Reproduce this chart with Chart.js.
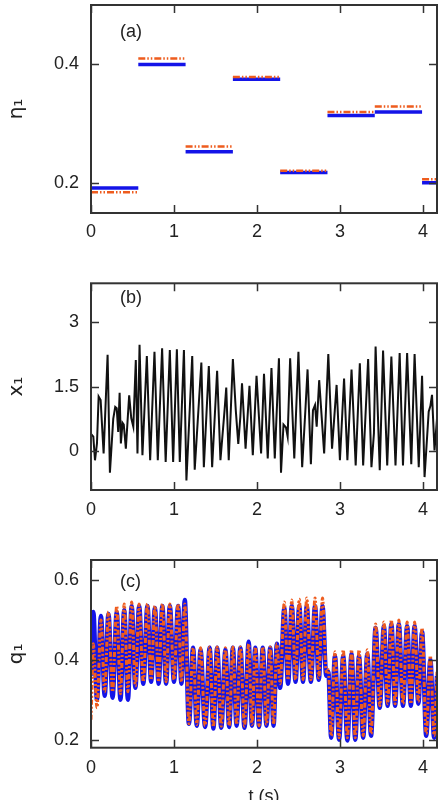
<!DOCTYPE html>
<html><head><meta charset="utf-8">
<script src="https://cdn.jsdelivr.net/npm/chart.js@4.4.1/dist/chart.umd.min.js"></script>
<style>
html,body{margin:0;padding:0;background:#fff;overflow:hidden;width:440px;height:800px}
canvas{position:absolute;left:0}
</style></head>
<body>
<canvas id="ca" width="440" height="262" style="top:0px"></canvas>
<canvas id="cb" width="440" height="268" style="top:262px"></canvas>
<canvas id="cc" width="440" height="280" style="top:530px"></canvas>
<script>
// ---------- data ----------
const T_TICKS = [0, 1, 2, 3, 4];

// panel (a): piecewise-constant eta_1
const SEG_START = [0, 0.57, 1.14, 1.71, 2.28, 2.85, 3.42, 3.99];
const SEG_END   = [0.57, 1.14, 1.71, 2.28, 2.85, 3.42, 3.99, 4.17];
const ETA_BLUE   = [0.192, 0.400, 0.253, 0.375, 0.218, 0.314, 0.320, 0.201];
const ETA_ORANGE = [0.185, 0.410, 0.262, 0.379, 0.221, 0.320, 0.329, 0.207];
const ETA_TICKS = [0.2, 0.4];

// panel (b): x_1
const T_B = [0,0.028,0.048,0.072,0.092,0.116,0.152,0.20,0.228,0.268,
 0.292,0.31,0.328,0.345,0.36,0.38,0.395,0.42,0.46,0.485,
 0.51,0.54,0.56,0.585,0.62,0.673,0.713,0.765,0.805,0.857,
 0.90,0.95,0.99,1.035,1.07,1.12,1.15,1.22,1.25,1.33,
 1.36,1.42,1.46,1.52,1.56,1.61,1.63,1.66,1.71,1.745,
 1.775,1.80,1.82,1.863,1.91,1.95,1.995,2.05,2.085,2.13,
 2.175,2.215,2.265,2.29,2.32,2.35,2.37,2.40,2.45,2.50,
 2.545,2.585,2.61,2.65,2.675,2.70,2.72,2.75,2.81,2.86,
 2.905,2.96,3.0,3.05,3.09,3.14,3.19,3.24,3.28,3.34,
 3.38,3.41,3.43,3.48,3.52,3.57,3.62,3.67,3.72,3.76,
 3.81,3.86,3.90,3.95,3.99,4.02,4.07,4.09,4.11,4.14,
 4.17];
const X_B = [0.40,0.34,-0.21,0.18,1.27,1.19,-0.05,2.24,-0.50,0.75,
 1.03,1.00,0.45,1.36,0.18,0.66,0.62,0.06,1.30,0.77,
 0.57,2.12,-0.05,2.47,-0.09,2.21,-0.21,2.31,-0.21,2.39,
 -0.25,2.35,-0.25,2.37,-0.25,2.35,-0.68,2.21,-0.43,2.06,
 -0.37,1.98,-0.37,1.87,-0.21,0.96,1.48,-0.21,2.14,0.95,
 0.17,0.80,1.58,0.06,1.52,-0.09,1.75,-0.05,1.80,-0.17,
 1.93,-0.17,2.16,-0.50,0.62,0.55,0.34,2.16,-0.17,2.31,
 -0.37,1.00,1.90,-0.30,0.95,1.07,0.57,1.65,-0.05,2.26,
 0.06,1.54,-0.21,1.69,-0.21,1.90,-0.33,2.04,-0.33,2.14,
 -0.37,0.42,2.43,-0.44,2.34,-0.33,2.20,-0.33,2.28,-0.33,
 2.28,-0.30,2.26,-0.37,1.75,-0.60,0.92,1.05,1.31,0.02,
 0.75];
const X_TICKS = [0, 1.5, 3];

// panel (c): q_1
const T_C = [0,0.012,0.028,0.072,0.12,0.165,0.21,0.26,0.31,0.355,
 0.40,0.445,0.49,0.535,0.58,0.63,0.68,0.725,0.77,0.815,
 0.86,0.905,0.95,1.0,1.05,1.09,1.13,1.18,1.23,1.275,
 1.32,1.375,1.43,1.475,1.52,1.57,1.62,1.665,1.71,1.755,
 1.80,1.85,1.90,1.94,1.98,2.025,2.07,2.115,2.16,2.20,
 2.24,2.28,2.33,2.375,2.42,2.465,2.51,2.555,2.60,2.65,
 2.70,2.745,2.79,2.835,2.86,2.895,2.94,2.99,3.04,3.09,
 3.14,3.185,3.23,3.28,3.33,3.375,3.43,3.48,3.53,3.575,
 3.62,3.665,3.71,3.76,3.81,3.855,3.90,3.945,3.99,4.04,
 4.09,4.135,4.17];
const Q_BLUE = [0.36,0.46,0.52,0.30,0.51,0.31,0.515,0.305,0.52,0.30,
 0.525,0.30,0.535,0.33,0.535,0.34,0.535,0.345,0.53,0.34,
 0.535,0.34,0.535,0.345,0.535,0.34,0.55,0.24,0.43,0.235,
 0.425,0.232,0.43,0.228,0.43,0.23,0.425,0.232,0.43,0.235,
 0.43,0.23,0.445,0.235,0.43,0.232,0.43,0.235,0.43,0.235,
 0.44,0.33,0.53,0.34,0.535,0.345,0.535,0.345,0.535,0.345,
 0.535,0.35,0.535,0.36,0.37,0.205,0.41,0.20,0.41,0.198,
 0.415,0.20,0.41,0.205,0.415,0.21,0.48,0.28,0.485,0.285,
 0.49,0.285,0.49,0.285,0.485,0.285,0.485,0.29,0.47,0.21,
 0.40,0.205,0.36];
const Q_ORANGE = [0.25,0.33,0.44,0.28,0.50,0.32,0.52,0.32,0.535,0.315,
 0.54,0.32,0.545,0.335,0.54,0.345,0.54,0.35,0.535,0.345,
 0.54,0.345,0.54,0.35,0.54,0.345,0.54,0.24,0.43,0.238,
 0.43,0.235,0.432,0.232,0.432,0.234,0.43,0.235,0.432,0.238,
 0.432,0.234,0.44,0.238,0.432,0.235,0.432,0.238,0.432,0.238,
 0.44,0.34,0.545,0.35,0.55,0.35,0.552,0.35,0.555,0.35,
 0.555,0.355,0.555,0.37,0.375,0.21,0.42,0.205,0.425,0.205,
 0.425,0.205,0.425,0.21,0.425,0.215,0.49,0.285,0.495,0.29,
 0.50,0.29,0.50,0.29,0.495,0.29,0.495,0.295,0.48,0.215,
 0.41,0.21,0.37];
const Q_TICKS = [0.2, 0.4, 0.6];

// ---------- styling ----------
const BLUE = '#1414e8';
const ORANGE = '#ee5c1e';
const FONT = '"Liberation Sans", "DejaVu Sans", Arial, sans-serif';
Chart.defaults.font.family = FONT;
Chart.defaults.font.size = 18;
Chart.defaults.color = '#222';
Chart.defaults.animation = false;

const zip = (xs, ys) => xs.map((x, i) => ({x: x, y: ys[i]}));
function segments(starts, ends, vals) {
  const out = [];
  starts.forEach((s, i) => {
    out.push({x: s, y: vals[i]}, {x: ends[i], y: vals[i]}, {x: ends[i], y: null});
  });
  return out;
}

const framePlugin = {
  id: 'frame',
  afterDraw(chart, args, opts) {
    const {ctx, chartArea: a, scales} = chart;
    ctx.save();
    ctx.strokeStyle = '#333';
    ctx.lineWidth = 1.5;
    const L = 8;
    ctx.beginPath();
    scales.x.ticks.forEach(t => {
      const px = Math.round(scales.x.getPixelForValue(t.value)) + 0.5;
      ctx.moveTo(px, a.bottom); ctx.lineTo(px, a.bottom - L);
      ctx.moveTo(px, a.top); ctx.lineTo(px, a.top + L);
    });
    scales.y.ticks.forEach(t => {
      const py = Math.round(scales.y.getPixelForValue(t.value)) + 0.5;
      ctx.moveTo(a.left, py); ctx.lineTo(a.left + L, py);
      ctx.moveTo(a.right, py); ctx.lineTo(a.right - L, py);
    });
    ctx.stroke();
    ctx.lineWidth = 2;
    ctx.strokeRect(a.left, a.top, a.right - a.left, a.bottom - a.top);
    ctx.fillStyle = '#222';
    ctx.font = '18px ' + FONT;
    ctx.textBaseline = 'middle';
    ctx.textAlign = 'left';
    ctx.fillText(opts.label, a.left + opts.dx, a.top + opts.dy);
    ctx.restore();
  }
};

function makeOptions(c) {
  return {
    responsive: false,
    maintainAspectRatio: false,
    layout: {padding: {top: c.padTop, right: 3, left: 0, bottom: 0}},
    plugins: {
      legend: {display: false},
      tooltip: {enabled: false},
      frame: {label: c.label, dx: c.dx, dy: c.dy}
    },
    elements: {point: {radius: 0}},
    scales: {
      x: {
        type: 'linear', min: 0, max: 4.17,
        afterBuildTicks: s => { s.ticks = T_TICKS.map(v => ({value: v})); },
        afterFit: s => { s.height = c.xH; s.paddingLeft = 0; s.paddingRight = 0; },
        grid: {display: false, drawTicks: false}, border: {display: false},
        ticks: {padding: c.xPad, maxRotation: 0, autoSkip: false, callback: v => String(v)},
        title: c.xTitle ? {display: true, text: c.xTitle, padding: {top: 0, bottom: 2}} : {display: false}
      },
      y: {
        type: 'linear', min: c.yMin, max: c.yMax,
        afterBuildTicks: s => { s.ticks = c.yTicks.map(v => ({value: v})); },
        afterFit: s => { s.width = 91; s.paddingTop = 0; s.paddingBottom = 0; },
        grid: {display: false, drawTicks: false}, border: {display: false},
        ticks: {padding: 12, callback: c.fmt},
        title: {display: true, text: c.yTitle, font: {size: 20, family: '"DejaVu Sans", "Liberation Sans", sans-serif'},
                padding: {top: 5, bottom: 0}}
      }
    }
  };
}

// (a)
new Chart(document.getElementById('ca'), {
  type: 'line',
  data: {datasets: [
    {data: segments(SEG_START, SEG_END, ETA_ORANGE), borderColor: ORANGE, borderWidth: 2.5,
     borderDash: [7, 2, 1.5, 2, 1.5, 2], spanGaps: false, order: 0},
    {data: segments(SEG_START, SEG_END, ETA_BLUE), borderColor: BLUE, borderWidth: 3.5,
     spanGaps: false, order: 1}
  ]},
  options: makeOptions({padTop: 5, xH: 49, xPad: 8, yMin: 0.15, yMax: 0.5, yTicks: ETA_TICKS,
    fmt: v => v.toFixed(1), yTitle: 'η₁', label: '(a)', dx: 29, dy: 27.5}),
  plugins: [framePlugin]
});

// (b)
new Chart(document.getElementById('cb'), {
  type: 'line',
  data: {datasets: [
    {data: zip(T_B, X_B), borderColor: '#111', borderWidth: 2, tension: 0}
  ]},
  options: makeOptions({padTop: 21.3, xH: 40, xPad: 9, yMin: -0.9, yMax: 3.9, yTicks: X_TICKS,
    fmt: v => String(v), yTitle: 'x₁', label: '(b)', dx: 29, dy: 15.2}),
  plugins: [framePlugin]
});

// (c)
new Chart(document.getElementById('cc'), {
  type: 'line',
  data: {datasets: [
    {data: zip(T_C, Q_ORANGE), borderColor: ORANGE, borderWidth: 3,
     borderDash: [5, 2, 2, 2, 2, 2], cubicInterpolationMode: 'monotone', order: 0},
    {data: zip(T_C, Q_BLUE), borderColor: BLUE, borderWidth: 4.5,
     cubicInterpolationMode: 'monotone', order: 1}
  ]},
  options: makeOptions({padTop: 30, xH: 62.3, xPad: 9.5, yMin: 0.18, yMax: 0.65, yTicks: Q_TICKS,
    fmt: v => v.toFixed(1), yTitle: 'q₁', xTitle: 't (s)', label: '(c)', dx: 29, dy: 22.5}),
  plugins: [framePlugin]
});
</script>
</body></html>
